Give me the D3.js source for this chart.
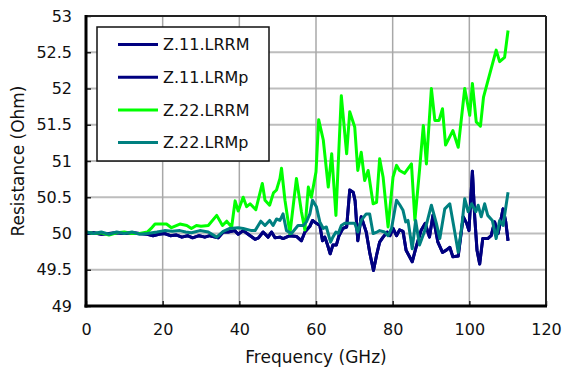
<!DOCTYPE html>
<html>
<head>
<meta charset="utf-8">
<script src="https://cdn.jsdelivr.net/npm/d3@7"></script>
<style>
  body { margin: 0; background: #fff; }
  svg text { font-family: "DejaVu Sans", Verdana, sans-serif; fill: #111; }
</style>
</head>
<body>
<div id="chart"></div>
<script>
// values
const z11Freq = [0,2,4,6,8,10,12,14,16,17.5,19,20.5,22,23.5,25,26.5,27.8,29.5,31,32.3,34.5,35.8,37.1,38.8,39.7,41,42.3,44.1,45,46.2,47.5,48.4,49.3,50.6,51.4,53.2,54.9,56.2,57.1,58.4,59.1,60.1,61,61.7,62.3,62.9,63.7,64.4,65.3,66,67,68,68.8,69.7,70.2,70.9,71.8,73.1,74,75,75.8,76.6,77.5,78.6,79.3,80.1,81,81.8,82.7,83.5,85.1,86.1,87.4,88.5,89.6,90.5,91.8,93,94,94.9,95.7,97.1,98.4,99.3,99.9,100.8,101.4,102,102.7,103.5,104.8,105.7,106.6,107.5,108.8,109.5,110.1];
const z11LRRM = [50.0,50.01,49.99,50.0,50.01,50.0,50.01,50.0,49.99,49.97,49.99,50.0,49.97,49.98,49.95,49.97,49.94,49.97,49.95,49.97,49.94,50.02,50.02,50.04,49.99,50.04,49.99,49.92,49.94,50.02,49.95,50.02,49.94,49.95,49.93,49.97,49.96,49.9,50.02,50.1,50.18,50.14,50.11,49.9,49.95,49.86,49.72,49.84,49.84,49.97,50.07,50.09,50.6,50.57,50.45,49.9,50.23,50.02,49.74,49.49,49.7,49.88,49.95,50.02,49.97,50.07,49.97,50.05,50.03,49.77,49.61,49.81,50.04,50.14,49.95,50.25,49.88,49.74,49.77,49.81,49.68,49.69,50.23,50.14,50.04,50.86,50.23,49.77,49.58,49.93,49.93,49.97,50.16,50.0,50.34,50.16,49.9];
const z11LRMp = [50.0,50.01,49.99,50.0,50.01,50.0,50.01,50.0,49.99,49.97,49.99,50.0,49.97,49.98,49.95,49.97,49.94,49.97,49.95,49.97,49.94,50.02,50.02,50.04,49.99,50.04,49.99,49.92,49.94,50.02,49.95,50.02,49.94,49.95,49.93,49.97,49.96,49.9,50.02,50.1,50.18,50.14,50.11,49.9,49.95,49.86,49.72,49.84,49.84,49.97,50.07,50.09,50.6,50.57,50.45,49.9,50.23,50.02,49.74,49.49,49.7,49.88,49.95,50.02,49.97,50.07,49.97,50.05,50.03,49.77,49.61,49.81,50.04,50.14,49.95,50.25,49.88,49.74,49.77,49.81,49.68,49.69,50.23,50.14,50.04,50.86,50.23,49.77,49.58,49.93,49.93,49.97,50.16,50.0,50.34,50.16,49.9];

const z22RRMFreq = [0,2,4,6,8,10,12,14,16,17,18,19,21,22.3,24.5,26.3,27.5,28.8,30,31.9,34.1,35.6,36.7,38,38.9,39.7,41,41.9,42.8,44.3,46,46.7,47.9,48.9,49.7,50.6,51,51.9,53.2,54.9,56.2,57.1,58,58.8,60,60.7,61.9,63.2,64.1,65.2,66.6,68,68.8,70.1,70.9,71.8,72.7,73.6,74.9,75.8,76.6,77.5,78.8,80.1,81,81.8,83.1,84.9,85.8,87,88,88.8,90.1,91,92.1,93,93.8,95.7,97.1,98.8,100.1,100.8,101.8,102.9,103.7,107,107.9,109.2,110.1];
const z22LRRM = [50.02,50.0,50.01,49.98,50.01,50.02,50.0,50.0,50.02,50.07,50.13,50.13,50.13,50.08,50.13,50.11,50.07,50.11,50.1,50.11,50.25,50.11,50.17,50.09,50.45,50.31,50.5,50.37,50.41,50.33,50.69,50.46,50.39,50.56,50.6,50.76,50.9,50.46,50.0,50.76,50.3,50.05,50.64,50.5,50.85,51.57,51.29,50.64,51.1,50.25,51.9,51.1,51.68,51.47,50.87,51.12,50.73,50.87,50.41,50.43,51.03,50.78,50.09,50.78,50.94,50.87,50.83,50.96,50.18,50.87,51.49,50.96,52.0,51.56,51.56,51.72,51.22,51.42,51.19,52.0,51.63,52.07,51.54,51.48,51.88,52.53,52.37,52.43,52.8];

const z22RMpFreq = [0,2,4,6,8,10,12,14,16,18.5,20.5,22.5,24.5,26,27.5,29.7,31.9,34.1,35.8,37.5,39.7,41,43.2,44.1,45.6,46.7,47.9,48.8,49.7,50.6,51.4,52.3,53.6,55.3,56.7,57.5,58.4,59.1,60.1,61,61.9,62.7,63.8,64.4,65.2,65.8,66.6,67.5,68.8,70.1,70.9,71.8,73.1,74,74.9,75.9,76.6,77.9,78.8,79.7,81,81.8,82.7,83.4,84,85.1,86,87,88.4,90.1,91.4,92.3,93.6,94.9,95.9,97.1,98,98.8,99.7,100.6,101.7,102.3,103.1,104,104.8,106,107,107.9,108.8,110.1];
const z22LRMp = [50.02,50.0,50.02,49.99,50.02,50.0,50.02,49.99,50.0,50.02,50.04,50.03,50.04,50.02,50.01,50.04,50.02,49.95,50.03,50.07,50.08,50.07,50.04,50.04,50.17,50.11,50.18,50.11,50.2,50.18,50.27,50.04,50.0,50.11,50.11,50.16,50.27,50.46,50.37,50.16,50.07,50.09,49.88,49.95,50.02,50.0,50.11,50.14,50.14,50.14,50.02,50.18,50.27,50.27,50.0,50.02,50.04,50.02,49.97,50.07,50.46,50.4,50.32,50.16,50.18,49.79,50.18,49.84,50.04,50.39,50.14,49.93,50.34,50.41,50.11,49.74,50.09,50.48,50.3,50.41,50.3,50.39,50.23,50.41,50.25,50.18,49.93,50.18,50.11,50.57];

const xTicks = [0, 20, 40, 60, 80, 100, 120];
const yTicks = [49, 49.5, 50, 50.5, 51, 51.5, 52, 52.5, 53];

const series = [
  { name: 'Z.11.LRRM', freq: z11Freq, values: z11LRRM, color: '#000080' },
  { name: 'Z.11.LRMp', freq: z11Freq, values: z11LRMp, color: '#000080' },
  { name: 'Z.22.LRRM', freq: z22RRMFreq, values: z22LRRM, color: '#00ff00' },
  { name: 'Z.22.LRMp', freq: z22RMpFreq, values: z22LRMp, color: '#008080' }
];

const width = 565;
const height = 372;
const margin = { top: 16, right: 19, bottom: 66, left: 86 };
const w = width - margin.left - margin.right;
const h = height - margin.top - margin.bottom;

const x = d3.scaleLinear().domain([0, 120]).range([0, w]);
const y = d3.scaleLinear().domain([49, 53]).range([h, 0]);

const svg = d3.select('#chart').append('svg')
  .attr('width', width)
  .attr('height', height);

const g = svg.append('g')
  .attr('transform', `translate(${margin.left},${margin.top})`);

// grid
g.append('g').selectAll('line')
  .data(yTicks.slice(1, -1))
  .enter().append('line')
  .attr('x1', 0).attr('x2', w)
  .attr('y1', d => y(d)).attr('y2', d => y(d))
  .attr('stroke', '#bdbdbd').attr('stroke-width', 2);

g.append('g').selectAll('line')
  .data(xTicks.slice(1, -1))
  .enter().append('line')
  .attr('y1', 0).attr('y2', h)
  .attr('x1', d => x(d)).attr('x2', d => x(d))
  .attr('stroke', '#a8a8a8').attr('stroke-width', 1.5);

// axes with inward ticks
const xAxis = g.append('g')
  .attr('transform', `translate(0,${h})`)
  .call(d3.axisBottom(x).tickValues(xTicks).tickSizeInner(-5).tickSizeOuter(0).tickPadding(18));
const yAxis = g.append('g')
  .call(d3.axisLeft(y).tickValues(yTicks).tickSizeInner(-5).tickSizeOuter(0).tickPadding(14)
    .tickFormat(d3.format('')));

[xAxis, yAxis].forEach(a => {
  a.select('.domain').remove();
  a.selectAll('.tick line').attr('stroke', '#222').attr('stroke-width', 1.5);
  a.selectAll('.tick text').style('font-size', '16px').attr('fill', '#111');
});

// lines
g.append('clipPath').attr('id', 'clip')
  .append('rect').attr('width', w).attr('height', h);

const line = d3.line()
  .x(d => x(d[0]))
  .y(d => y(d[1]));

g.append('g').attr('clip-path', 'url(#clip)')
  .selectAll('path')
  .data(series)
  .enter().append('path')
  .attr('d', s => line(s.freq.map((f, i) => [f, s.values[i]])))
  .attr('fill', 'none')
  .attr('stroke', s => s.color)
  .attr('stroke-width', 3)
  .attr('stroke-linejoin', 'round');

// frame
g.append('line').attr('x1', 0).attr('x2', w).attr('y1', 0).attr('y2', 0)
  .attr('stroke', '#222').attr('stroke-width', 2);
g.append('line').attr('x1', w).attr('x2', w).attr('y1', 0).attr('y2', h)
  .attr('stroke', '#222').attr('stroke-width', 2);
g.append('line').attr('x1', 0).attr('x2', 0).attr('y1', -1).attr('y2', h + 1.5)
  .attr('stroke', '#000').attr('stroke-width', 3);
g.append('line').attr('x1', -1.5).attr('x2', w + 1).attr('y1', h).attr('y2', h)
  .attr('stroke', '#000').attr('stroke-width', 3);

// legend
const legend = svg.append('g').attr('transform', 'translate(97,27)');
legend.append('rect')
  .attr('width', 172).attr('height', 134)
  .attr('fill', '#fff').attr('stroke', '#111').attr('stroke-width', 1.5);

const item = legend.selectAll('.item')
  .data(series)
  .enter().append('g')
  .attr('transform', (d, i) => `translate(0,${17.5 + i * 32.7})`);
item.append('line')
  .attr('x1', 21).attr('x2', 61)
  .attr('stroke', d => d.color).attr('stroke-width', 3);
item.append('text')
  .attr('x', 66).attr('dy', '0.36em')
  .style('font-size', '16px')
  .text(d => d.name);

// axis titles
svg.append('text')
  .attr('x', margin.left + w / 2).attr('y', 363)
  .attr('text-anchor', 'middle')
  .style('font-size', '17px')
  .text('Frequency (GHz)');

svg.append('text')
  .attr('transform', `translate(24,${margin.top + h / 2}) rotate(-90)`)
  .attr('text-anchor', 'middle')
  .style('font-size', '17px')
  .text('Resistance (Ohm)');
</script>
</body>
</html>
